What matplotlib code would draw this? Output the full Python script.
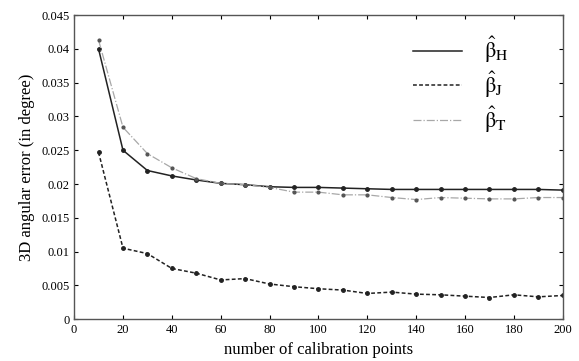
import matplotlib
matplotlib.use("Agg")
import matplotlib.pyplot as plt
from matplotlib.lines import Line2D

plt.rcParams['font.family'] = ['Liberation Serif', 'DejaVu Serif']
plt.rcParams['mathtext.fontset'] = 'stix'

# number of calibration points
n_points = [10, 20, 30, 40, 50, 60, 70, 80, 90, 100, 110, 120, 130, 140, 150, 160, 170, 180, 190, 200]

# 3D angular error (degree) for each estimator
err_h = [0.0400, 0.0250, 0.0220, 0.0212, 0.0206, 0.0201, 0.0199, 0.0196, 0.0195, 0.0195,
         0.0194, 0.0193, 0.0192, 0.0192, 0.0192, 0.0192, 0.0192, 0.0192, 0.0192, 0.0191]
err_j = [0.0247, 0.0105, 0.0097, 0.0075, 0.0068, 0.0058, 0.0060, 0.0052, 0.0048, 0.0045,
         0.0043, 0.0038, 0.0040, 0.0037, 0.0036, 0.0034, 0.0032, 0.0036, 0.0033, 0.0035]
err_t = [0.0413, 0.0284, 0.0245, 0.0224, 0.0208, 0.0201, 0.0199, 0.0195, 0.0188, 0.0188,
         0.0184, 0.0184, 0.0180, 0.0177, 0.0180, 0.0179, 0.0178, 0.0178, 0.0180, 0.0180]

labels = [r'$\hat{\mathrm{\beta}}_{\rm H}$', r'$\hat{\mathrm{\beta}}_{\rm J}$',
          r'$\hat{\mathrm{\beta}}_{\rm T}$']

fig = plt.figure(figsize=(5.79, 3.61), dpi=100)
ax = fig.add_axes([0.128, 0.116, 0.844, 0.842])

styles = [
    dict(color='#222222', linestyle='-', linewidth=1.1),
    dict(color='#222222', linestyle=(0, (2.5, 1.5)), linewidth=1.1),
    dict(color='#a8a8a8', linestyle='-.', linewidth=0.9),
]

ax.plot(n_points, err_h, marker='o', markersize=2.5, **styles[0])
ax.plot(n_points, err_j, marker='o', markersize=2.5, **styles[1])
ax.plot(n_points, err_t, marker='o', markersize=2.0, markerfacecolor='#555555',
        markeredgecolor='#555555', **styles[2])

ax.set_xlim(0, 200)
ax.set_ylim(0, 0.045)
ax.set_xticks(range(0, 201, 20))
ax.set_yticks([0, 0.005, 0.01, 0.015, 0.02, 0.025, 0.03, 0.035, 0.04, 0.045])
ax.set_yticklabels(['0', '0.005', '0.01', '0.015', '0.02', '0.025', '0.03', '0.035', '0.04', '0.045'])
ax.tick_params(direction='in', top=True, right=True, labelsize=9, length=3, width=0.8)

for s in ax.spines.values():
    s.set_color('#555555')
    s.set_linewidth(1.0)

ax.set_xlabel('number of calibration points', fontsize=12)
ax.set_ylabel('3D angular error (in degree)', fontsize=12)

handles = [Line2D([], [], **st) for st in styles]
ax.legend(handles, labels, loc='upper right', bbox_to_anchor=(0.93, 1.0), frameon=False,
          fontsize=16, handlelength=2.2, handletextpad=1.0, labelspacing=0.2)

fig.savefig('out.png', dpi=100)
